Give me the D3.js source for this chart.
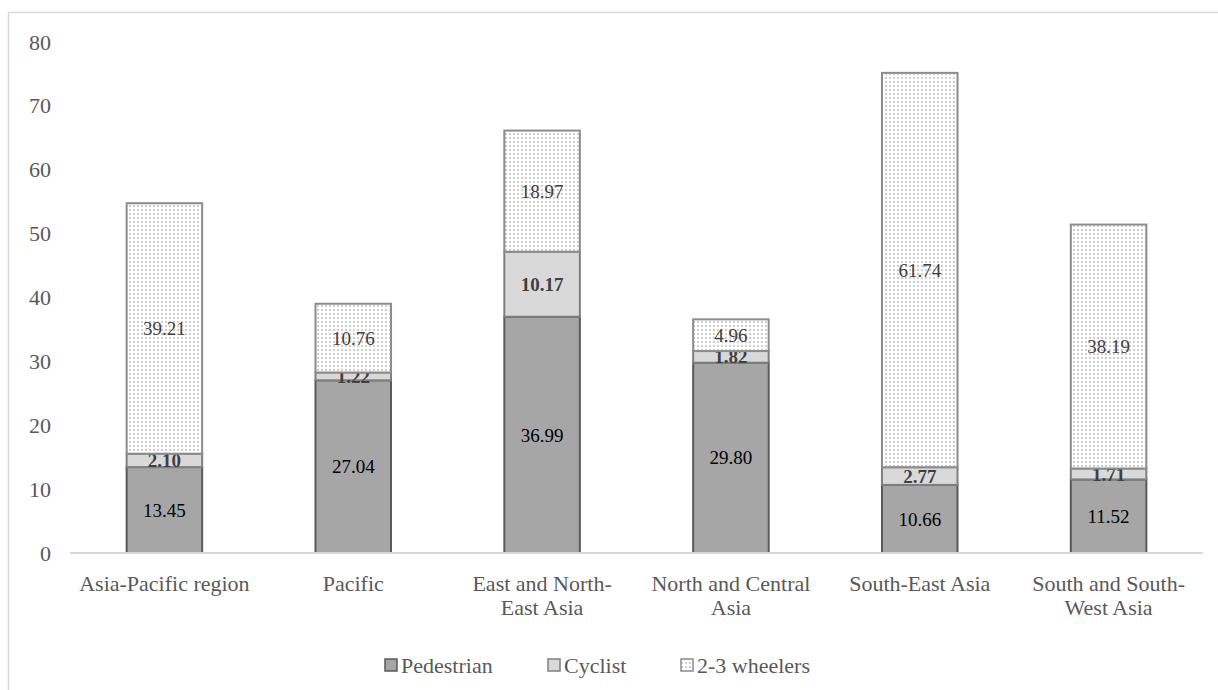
<!DOCTYPE html>
<html>
<head>
<meta charset="utf-8">
<script src="https://cdn.jsdelivr.net/npm/d3@7"></script>
<style>
  html, body { margin: 0; padding: 0; background: #fff; }
  svg { display: block; }
  svg text { font-family: "Times New Roman", Times, Tinos, "Liberation Serif", "Noto Serif", "DejaVu Serif", serif; }
</style>
</head>
<body>
<svg id="chart" width="1218" height="690"></svg>
<script>
// Road-user fatalities share by region (stacked)
const categories = [
  ["Asia-Pacific region"],
  ["Pacific"],
  ["East and North-", "East Asia"],
  ["North and Central", "Asia"],
  ["South-East Asia"],
  ["South and South-", "West Asia"]
];
const seriesNames = ["Pedestrian", "Cyclist", "2-3 wheelers"];
const pedestrian = [13.45, 27.04, 36.99, 29.80, 10.66, 11.52];
const cyclist    = [2.10, 1.22, 10.17, 1.82, 2.77, 1.71];
const wheelers   = [39.21, 10.76, 18.97, 4.96, 61.74, 38.19];
const yTicks = [0, 10, 20, 30, 40, 50, 60, 70, 80];

const FONT = "'Times New Roman', Times, Tinos, 'Liberation Serif', 'Noto Serif', 'DejaVu Serif', serif";
const svg = d3.select("#chart");
const W = 1218, H = 690;

// pattern for the 2-3 wheelers segments
const defs = svg.append("defs");
const pat = defs.append("pattern")
  .attr("id", "dots").attr("patternUnits", "userSpaceOnUse")
  .attr("width", 4).attr("height", 4);
pat.append("rect").attr("width", 4).attr("height", 4).attr("fill", "#fff");
pat.append("rect").attr("x", 1).attr("y", 1).attr("width", 2).attr("height", 2).attr("fill", "#cfcfcf");

// outer frame
svg.append("rect")
  .attr("x", 8.5).attr("y", 12.5).attr("width", W + 10).attr("height", H + 10)
  .attr("fill", "none").attr("stroke", "#d9d9d9").attr("stroke-width", 1.5);

const margin = { left: 70, right: 15, top: 42, bottom: 137 };
const x = d3.scaleBand()
  .domain(d3.range(categories.length))
  .range([margin.left, W - margin.right])
  .paddingInner(0.6).paddingOuter(0.3);
const y = d3.scaleLinear().domain([0, 80]).range([H - margin.bottom, margin.top]);

// y axis labels
const yAxis = d3.axisLeft(y).tickValues(yTicks).tickSize(0).tickPadding(0);
const gy = svg.append("g").attr("transform", "translate(51,0)").call(yAxis)
  .attr("font-family", FONT);
gy.select(".domain").remove();
gy.selectAll("text")
  .style("font-family", FONT)
  .attr("font-size", 22).attr("fill", "#595959");

const rows = categories.map((c, i) => ({
  i, Pedestrian: pedestrian[i], Cyclist: cyclist[i], "2-3 wheelers": wheelers[i]
}));
const stacked = d3.stack().keys(seriesNames)(rows);

const fills = { "Pedestrian": "#a6a6a6", "Cyclist": "#d9d9d9", "2-3 wheelers": "url(#dots)" };
const strokes = { "Pedestrian": "#595959", "Cyclist": "#7f7f7f", "2-3 wheelers": "#8c8c8c" };

const layers = svg.append("g").selectAll("g").data(stacked).join("g");
layers.selectAll("rect").data(d => d.map(v => ({ key: d.key, v })))
  .join("rect")
  .attr("x", d => x(d.v.data.i))
  .attr("width", x.bandwidth())
  .attr("y", d => y(d.v[1]))
  .attr("height", d => y(d.v[0]) - y(d.v[1]))
  .attr("fill", d => fills[d.key])
  .attr("stroke", d => strokes[d.key])
  .attr("stroke-width", 2);

// x baseline
svg.append("line")
  .attr("x1", margin.left).attr("x2", W - margin.right)
  .attr("y1", y(0)).attr("y2", y(0))
  .attr("stroke", "#d9d9d9").attr("stroke-width", 2);

// value labels
const labelStyle = {
  "Pedestrian": { weight: "normal", color: "#000" },
  "Cyclist": { weight: "bold", color: "#404040" },
  "2-3 wheelers": { weight: "normal", color: "#404040" }
};
layers.selectAll("text").data(d => d.map(v => ({ key: d.key, v })))
  .join("text")
  .attr("x", d => x(d.v.data.i) + x.bandwidth() / 2)
  .attr("y", d => (y(d.v[0]) + y(d.v[1])) / 2)
  .attr("dy", "0.35em")
  .attr("text-anchor", "middle")
  .style("font-family", FONT)
  .attr("font-size", 19)
  .attr("font-weight", d => labelStyle[d.key].weight)
  .attr("fill", d => labelStyle[d.key].color)
  .text(d => d.v.data[d.key].toFixed(2));

// category labels
const xl = svg.append("g");
categories.forEach((lines, i) => {
  const t = xl.append("text")
    .attr("x", x(i) + x.bandwidth() / 2)
    .attr("y", y(0) + 38)
    .attr("text-anchor", "middle")
    .style("font-family", FONT)
    .attr("font-size", 22).attr("fill", "#595959");
  lines.forEach((ln, k) => {
    t.append("tspan").attr("x", x(i) + x.bandwidth() / 2)
      .attr("dy", k === 0 ? 0 : 24).text(ln);
  });
});

// legend
const legend = svg.append("g").attr("transform", "translate(0,665)");
const legendX = [385, 548, 681];
seriesNames.forEach((name, i) => {
  legend.append("rect")
    .attr("x", legendX[i]).attr("y", -6).attr("width", 12).attr("height", 12)
    .attr("fill", fills[name]).attr("stroke", strokes[name]).attr("stroke-width", 1.5);
  legend.append("text")
    .attr("x", legendX[i] + 16).attr("y", 0).attr("dy", "0.35em")
    .style("font-family", FONT)
    .attr("font-size", 22).attr("fill", "#595959").text(name);
});
</script>
</body>
</html>
